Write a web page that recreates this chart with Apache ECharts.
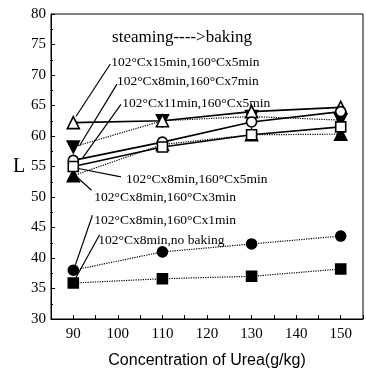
<!DOCTYPE html>
<html>
<head>
<meta charset="utf-8">
<script src="https://cdn.jsdelivr.net/npm/echarts@6/dist/echarts.min.js"></script>
<style>
  html, body { margin: 0; padding: 0; background: #fff; }
  #chart { width: 366px; height: 376px; }
</style>
</head>
<body>
<div id="chart"></div>
<script>
// Urea concentration (g/kg)
const urea = [90, 110, 130, 150];

// Lightness L for each steaming -> baking condition
const s15_5 = [62.2, 62.5, 64.0, 64.7];   // 102°C x15min, 160°C x5min
const s8_7  = [58.2, 62.5, 63.2, 62.6];   // 102°C x8min, 160°C x7min
const s11_5 = [56.0, 59.0, 62.3, 64.0];   // 102°C x11min, 160°C x5min
const s8_5  = [55.0, 58.2, 60.2, 61.5];   // 102°C x8min, 160°C x5min
const s8_3  = [53.5, 58.6, 60.2, 60.3];   // 102°C x8min, 160°C x3min
const s8_1  = [38.0, 41.0, 42.3, 43.6];   // 102°C x8min, 160°C x1min
const s8_0  = [35.9, 36.6, 37.0, 38.2];   // 102°C x8min, no baking

const seriesNames = [
  '102°Cx15min,160°Cx5min',
  '102°Cx8min,160°Cx7min',
  '102°Cx11min,160°Cx5min',
  '102°Cx8min,160°Cx5min',
  '102°Cx8min,160°Cx3min',
  '102°Cx8min,160°Cx1min',
  '102°Cx8min,no baking'
];

// Label anchors [x, y] and leader line ends, in data units
const labelPos = [[98.5, 72.1], [99.8, 68.9], [101.0, 65.4], [101.8, 52.8], [94.7, 50.0], [94.7, 46.2], [95.6, 42.9]];
const leaderFrom = [[98.3, 71.8], [99.8, 68.5], [100.7, 65.2], [100.7, 53.3], [94.1, 51.1], [94.3, 47.0], [95.9, 43.8]];
const leaderTo = [[90.6, 63.2], [91.4, 58.4], [92.1, 56.4], [90.3, 54.8], [90.3, 53.6], [90.3, 38.5], [90.3, 36.4]];
const titleText = 'steaming---->baking';
const titlePos = [98.7, 76.1];

const serif = '"Liberation Serif", "DejaVu Serif", serif';

function pairs(vals) { return urea.map((u, i) => [u, vals[i]]); }

function makeSeries(vals, name, symbol, filled, rotate, dashed) {
  return {
    name: name,
    type: 'line',
    data: pairs(vals),
    symbol: symbol,
    symbolSize: symbol === 'triangle' ? 12 : 10,
    symbolRotate: rotate,
    showAllSymbol: true,
    lineStyle: { color: '#000', width: dashed ? 1.2 : 1.6, type: dashed ? 'dotted' : 'solid' },
    itemStyle: { color: filled ? '#000' : '#fff', borderColor: '#000', borderWidth: 1.6 },
    emphasis: { disabled: true },
    z: filled ? 3 : 4
  };
}

const chart = echarts.init(document.getElementById('chart'), null, { renderer: 'canvas' });

chart.setOption({
  animation: false,
  backgroundColor: '#fff',
  grid: { left: 51, right: -2, top: 14, bottom: 57, show: true, borderColor: '#000', borderWidth: 1 },
  xAxis: {
    type: 'value', min: 85, max: 155, interval: 5,
    name: 'Concentration of Urea(g/kg)', nameLocation: 'middle', nameGap: 34,
    nameTextStyle: { fontFamily: '"Liberation Sans", Arial, sans-serif', fontSize: 16, color: '#000' },
    axisLine: { lineStyle: { color: '#000', width: 1 } },
    axisTick: { inside: true, length: 4, lineStyle: { color: '#000' } },
    axisLabel: {
      fontFamily: serif, fontSize: 15, color: '#000', margin: 8,
      formatter: v => (v % 10 === 0 && v >= 90 && v <= 150) ? String(v) : ''
    },
    splitLine: { show: false }
  },
  yAxis: {
    type: 'value', min: 30, max: 80, interval: 5,
    name: 'L', nameLocation: 'middle', nameGap: 24, nameRotate: 0,
    nameTextStyle: { fontFamily: serif, fontSize: 20, color: '#000' },
    axisLine: { show: true, lineStyle: { color: '#000', width: 1 } },
    axisTick: { inside: true, length: 4, lineStyle: { color: '#000' } },
    minorTick: { show: true, splitNumber: 2, length: 2, lineStyle: { color: '#000' } },
    axisLabel: { fontFamily: serif, fontSize: 15, color: '#000', margin: 5 },
    splitLine: { show: false }
  },
  series: [
    makeSeries(s15_5, seriesNames[0], 'triangle', false, 0, false),
    makeSeries(s8_7,  seriesNames[1], 'triangle', true, 180, true),
    makeSeries(s11_5, seriesNames[2], 'circle', false, 0, false),
    makeSeries(s8_5,  seriesNames[3], 'rect', false, 0, false),
    makeSeries(s8_3,  seriesNames[4], 'triangle', true, 0, true),
    makeSeries(s8_1,  seriesNames[5], 'circle', true, 0, true),
    makeSeries(s8_0,  seriesNames[6], 'rect', true, 0, true)
  ]
});

// Condition labels with leader lines, placed from data coordinates
const toPx = p => chart.convertToPixel({ gridIndex: 0 }, p);
const elements = [];
const tp = toPx(titlePos);
elements.push({
  type: 'text', x: tp[0], y: tp[1], silent: true,
  style: { text: titleText, font: '17px ' + serif, fill: '#000', textVerticalAlign: 'middle', textAlign: 'left' }
});
seriesNames.forEach((name, i) => {
  const a = toPx(leaderFrom[i]);
  const b = toPx(leaderTo[i]);
  elements.push({
    type: 'line', silent: true,
    shape: { x1: a[0], y1: a[1], x2: b[0], y2: b[1] },
    style: { stroke: '#000', lineWidth: 1.2 }
  });
  const p = toPx(labelPos[i]);
  elements.push({
    type: 'text', x: p[0], y: p[1], silent: true,
    style: { text: name, font: '13.5px ' + serif, fill: '#000', textVerticalAlign: 'middle', textAlign: 'left' }
  });
});
chart.setOption({ graphic: { elements: elements } });
</script>
</body>
</html>
